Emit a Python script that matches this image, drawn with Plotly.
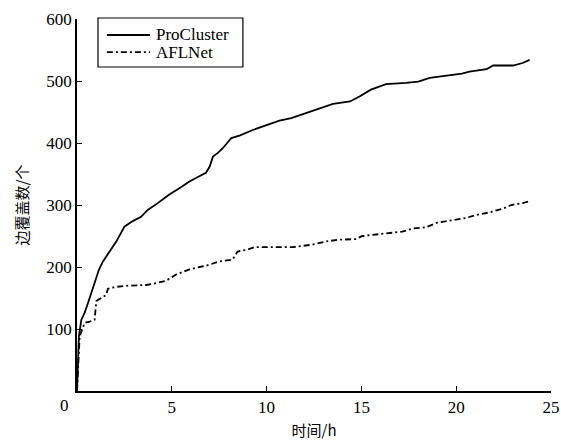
import plotly.graph_objects as go

# ProCluster: time (h) vs edge coverage
pro_t = [0, 0.1, 0.23, 0.4, 0.58, 0.76, 0.93, 1.16, 1.37, 1.72, 2.07, 2.5, 2.94, 3.38, 3.73, 4.26,
         4.87, 5.4, 5.93, 6.3, 6.8, 7.0, 7.17, 7.43, 7.7, 8.14, 8.57, 9.27, 10.15, 10.68, 11.3, 12.08,
         12.8, 13.5, 14.4, 14.9, 15.5, 16.3, 17.35, 18.0, 18.6, 19.1, 19.5, 20.3, 20.7, 21.6, 21.95,
         23.0, 23.5, 23.87]
pro_v = [0, 88, 115, 126, 142, 158, 174, 196, 209, 225, 241, 265, 274, 281, 292, 303,
         317, 327, 338, 344, 352, 362, 378, 384, 392, 408, 412, 421, 430, 436, 440, 448,
         456, 463, 467, 475, 486, 495, 497, 499, 505, 507, 509, 512, 515, 519, 525,
         525, 529, 534]

# AFLNet
afl_t = [0, 0.14, 0.3, 0.4, 0.67, 0.93, 1.02, 1.28, 1.54, 1.63, 2.07, 2.77, 3.65, 4.18, 4.71,
         5.23, 5.93, 6.46, 6.8, 7.5, 8.2, 8.47, 9.0, 9.35, 10.3, 11.37, 12.4, 13.1, 13.8, 14.7,
         15.05, 15.6, 16.3, 17.15, 17.7, 18.4, 18.95, 19.8, 20.5, 21.05, 21.75, 22.45, 22.9,
         23.5, 23.85]
afl_v = [0, 88, 101, 110, 112, 115, 145, 150, 155, 165, 168, 170, 171, 174, 178,
         188, 196, 200, 202, 209, 212, 225, 228, 232, 232, 232, 236, 241, 244, 245,
         250, 252, 255, 257, 262, 264, 271, 275, 279, 284, 288, 294, 300,
         303, 306]

series_names = ["ProCluster", "AFLNet"]
x_ticks = [5, 10, 15, 20, 25]
y_ticks = [100, 200, 300, 400, 500, 600]
origin_label = "0"

serif = "Liberation Serif, Times New Roman, serif"
cjk = "Noto Sans CJK SC, sans-serif"
fs = 17
dashes = ["solid", "6px,3px,2px,3px"]

fig = go.Figure()
fig.add_trace(go.Scatter(x=pro_t, y=pro_v, mode="lines", name=series_names[0],
                         line=dict(color="black", width=1.8, dash=dashes[0])))
fig.add_trace(go.Scatter(x=afl_t, y=afl_v, mode="lines", name=series_names[1],
                         line=dict(color="black", width=1.8, dash=dashes[1])))

fig.update_layout(
    width=561, height=440,
    margin=dict(l=77, r=10, t=19, b=49),
    paper_bgcolor="white", plot_bgcolor="white",
    font=dict(family=serif, size=fs, color="black"),
    showlegend=False,
    xaxis=dict(range=[0, 25], tickvals=x_ticks, ticks="inside", ticklen=5,
               tickwidth=1.3, tickcolor="black", showline=True, linecolor="black",
               linewidth=1.5, showgrid=False, zeroline=False, automargin=False,
               tickfont=dict(family=serif, size=fs),
               title=dict(text="时间/h", font=dict(family=cjk, size=15), standoff=11)),
    yaxis=dict(range=[0, 600], tickvals=y_ticks, ticks="inside", ticklen=5,
               tickwidth=1.3, tickcolor="black", showline=True, linecolor="black",
               linewidth=1.5, showgrid=False, zeroline=False, automargin=False,
               tickfont=dict(family=serif, size=fs),
               title=dict(text="边覆盖数/个", font=dict(family=cjk, size=15), standoff=14)),
)
fig.add_annotation(x=0, y=0, xref="x", yref="y", text=origin_label, showarrow=False,
                   xanchor="right", yanchor="top", xshift=-6, yshift=-3,
                   font=dict(family=serif, size=fs))

# legend box (drawn manually to match compact layout)
fig.add_shape(type="rect", xref="paper", yref="paper", x0=0.0443, x1=0.350,
              y0=0.871, y1=1.0027, line=dict(color="black", width=1.2),
              fillcolor="white", layer="above")
leg_y = [0.957, 0.911]
for name, dash, yy in zip(series_names, dashes, leg_y):
    fig.add_shape(type="line", xref="paper", yref="paper", x0=0.063, x1=0.154,
                  y0=yy, y1=yy, line=dict(color="black", width=1.8, dash=dash),
                  layer="above")
    fig.add_annotation(x=0.162, y=yy, xref="paper", yref="paper", text=name,
                       showarrow=False, xanchor="left", yanchor="middle",
                       font=dict(family=serif, size=fs))

fig.write_html("out.html", post_script="document.body.style.margin='0';",
               config={"displayModeBar": False})
